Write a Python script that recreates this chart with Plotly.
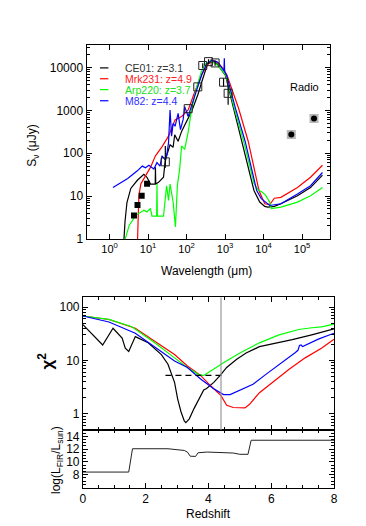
import plotly.graph_objects as go

# ---- SED panel data (wavelength in micron, flux in microJy) ----
ce01_wave = [2.29, 2.51, 2.82, 3.55, 5.25, 7.76, 9.33, 11.5, 15.3, 15.5, 15.8, 18.6, 25.1, 27.5,
             30.2, 37.2, 44.7, 49.0, 60.3, 74.1, 89.1, 110, 145, 195, 263, 355, 479, 631, 794,
             1023, 1660, 2754, 3981, 5623, 7943, 10715, 12882, 19055, 28184, 75858, 165959, 338844]
ce01_flux = [0.63, 2.51, 7.08, 15.1, 23.4, 32.4, 27.5, 19.1, 19.1, 46.8, 19.1, 20.9, 27.5, 60.3,
             87.1, 158, 138, 269, 191, 324, 468, 661, 1122, 2291, 5495, 12589, 14125, 12023, 8913,
             6607, 1122, 191, 50.1, 13.5, 7.24, 5.75, 5.5, 5.75, 6.61, 10.2, 15.8, 30.9]

mrk231_wave = [5.25, 5.75, 6.46, 8.51, 11.5, 15.5, 22.9, 33.9, 50.1, 74.1, 110, 158, 251, 355,
               479, 631, 891, 1122, 2239, 3981, 7586, 10715, 14454, 19055, 28184, 75858, 165959, 338844]
mrk231_flux = [0.63, 10.2, 19.1, 29.5, 46.8, 87.1, 141, 251, 603, 724, 1023, 2512, 7079, 12023,
               14454, 13183, 9550, 6607, 1122, 191, 13.5, 6.61, 6.31, 8.91, 9.33, 15.8, 27.5, 52.5]

arp220_wave = [2.19, 3.24, 4.79, 5.75, 7.76, 9.33, 11.5, 12.6, 16.6, 17.0, 17.4, 25.1, 30.2, 33.9,
               37.2, 44.7, 51.3, 57.5, 66.1, 74.1, 89.1, 110, 132, 178, 240, 316, 417, 562, 759,
               1047, 1738, 3020, 5623, 7079, 8913, 11220, 14454, 15849, 28184, 75858, 165959, 338844]
arp220_flux = [0.63, 2.09, 3.55, 3.89, 4.68, 4.27, 5.13, 3.39, 3.39, 19.1, 3.39, 3.39, 17.4, 7.94,
               19.1, 7.24, 1.91, 17.4, 42.7, 148, 123, 316, 933, 3236, 7943, 12589, 14125, 12589, 9550,
               6607, 1122, 191, 20.0, 14.1, 12.6, 10.5, 7.24, 5.13, 5.5, 7.24, 10.2, 15.8]

m82_wave = [1.22, 2.95, 5.25, 7.08, 8.51, 10.5, 14.1, 17.0, 20.4, 22.9, 27.5, 30.2, 33.9, 37.2,
            40.7, 44.7, 50.1, 60.3, 69.2, 81.3, 89.1, 110, 132, 178, 251, 331, 447, 603, 692,
            933, 955, 977, 1096, 1862, 3311, 6607, 8710, 14454, 28184, 75858, 165959, 338844]
m82_flux = [15.8, 25.7, 38.9, 50.1, 45.7, 52.5, 42.7, 60.3, 50.1, 87.1, 70.8, 87.1, 174, 1023,
            251, 501, 427, 851, 355, 617, 1230, 724, 1230, 2818, 7079, 12023, 14791, 13804, 12589,
            8318, 16596, 7943, 6607, 1122, 191, 13.5, 8.71, 6.03, 6.61, 11.2, 17.4, 35.5]

irac_wave = [4.3, 5.3, 6.8, 9.4]
irac_flux = [3.5, 6.2, 10.2, 19.5]

obs_wave = [28, 110, 195, 263, 372, 550, 912, 1200]
obs_flux = [63, 1100, 3550, 11220, 13800, 12880, 4570, 2510]
obs_err_up = [85, 0, 0, 1500, 1800, 1800, 1050, 1470]
obs_err_dn = [17, 0, 0, 1500, 1800, 1800, 1000, 1160]

radio_wave = [52500, 204000]
radio_flux = [275, 650]

sed_ticks = [1, 10, 100, 1000, 10000]
sed_ticktext = ["1", "10", "100", "1000", "10000"]

# ---- redshift panels ----
z_ce01 = [0, 0.63, 0.96, 1.25, 1.35, 1.46, 1.67, 2.08, 2.5, 2.71, 2.92, 3.02, 3.125, 3.23, 3.28,
          3.39, 3.54, 3.70, 3.85, 3.94, 4.17, 4.375, 4.58, 4.9, 5.2, 5.625, 6.04, 6.67, 7.29, 8.0]
chi_ce01 = [47, 19.5, 40, 26.3, 17, 14.8, 28, 21.4, 12.9, 8.5, 3.9, 1.9, 1.1, 0.74, 0.69,
            0.81, 1.26, 1.9, 2.8, 3.0, 3.9, 5.25, 7.4, 10.5, 13.8, 18.2, 20.4, 24.5, 30.2, 38.9]

z_mrk231 = [0, 0.83, 1.67, 2.29, 2.92, 3.33, 3.75, 4.06, 4.4, 4.58, 4.79, 5.16, 5.3, 5.625,
            6.04, 6.56, 7.08, 7.6, 8.0]
chi_mrk231 = [68, 58.5, 40, 22.9, 12.9, 7.9, 5.25, 3.4, 2.2, 1.45, 1.32, 1.30, 1.5, 2.5,
              3.9, 6.8, 11.2, 17, 25]

z_arp220 = [0, 0.83, 1.56, 2.29, 2.92, 3.33, 3.70, 3.85, 4.06, 4.48, 5.0, 5.625, 6.25, 6.875,
            7.3, 7.6, 8.0]
chi_arp220 = [68, 58.9, 42.7, 21.4, 11.2, 7.4, 5.4, 5.25, 6.3, 9.1, 13.8, 21.4, 30.2, 38,
              41, 42.7, 48]

z_m82 = [0, 0.83, 1.67, 2.29, 2.92, 3.33, 3.75, 4.17, 4.48, 4.69, 5.0, 5.42, 5.83, 6.35,
         6.77, 6.85, 6.9, 6.95, 7.0, 7.5, 8.0]
chi_m82 = [68, 52.5, 32.4, 18.2, 9.8, 7.4, 4.5, 2.95, 2.3, 2.3, 2.75, 3.6, 5.5, 9.1,
           14.1, 15.5, 19.1, 19.5, 18.2, 25.1, 32.4]

thresh_z = [2.63, 4.53]
thresh_chi = [5.25, 5.25]
z_best = 4.4

z_lfir = [0, 1.46, 1.58, 2.71, 3.23, 3.33, 3.42, 3.59, 3.67, 3.96, 4.79, 5.0, 5.26, 5.36, 8.0]
lfir = [8.42, 8.42, 12.07, 12.07, 11.8, 11.55, 10.9, 10.87, 11.44, 11.55, 11.4, 11.2, 11.2, 13.4, 13.4]

templates = ["CE01: z=3.1", "Mrk231: z=4.9", "Arp220: z=3.7", "M82: z=4.4"]
colors = ["black", "#ff0000", "#00ff00", "#0000ff"]
text_colors = ["#333333", "#ff2020", "#20e020", "#3030ff"]

W, H = 366, 526
FONT = "Liberation Sans"


def px(x):
    return x / W


def py(y):
    return 1 - y / H


fig = go.Figure()

sed = [(ce01_wave, ce01_flux), (mrk231_wave, mrk231_flux), (arp220_wave, arp220_flux), (m82_wave, m82_flux)]
for (wv, fl), c in zip(sed, colors):
    fig.add_trace(go.Scatter(x=wv, y=fl, mode="lines", line=dict(color=c, width=1.2),
                             xaxis="x", yaxis="y", showlegend=False))

fig.add_trace(go.Scatter(x=irac_wave, y=irac_flux, mode="markers",
                         marker=dict(symbol="square", size=6, color="black"),
                         xaxis="x", yaxis="y", showlegend=False))
fig.add_trace(go.Scatter(x=obs_wave, y=obs_flux, mode="markers",
                         marker=dict(symbol="square-open", size=8, color="#222", line=dict(width=1)),
                         error_y=dict(type="data", symmetric=False, array=obs_err_up,
                                      arrayminus=obs_err_dn, color="black", thickness=1.2, width=0),
                         xaxis="x", yaxis="y", showlegend=False))
fig.add_trace(go.Scatter(x=radio_wave, y=radio_flux, mode="markers",
                         marker=dict(symbol="square", size=9, color="#b8b8b8"),
                         xaxis="x", yaxis="y", showlegend=False))
fig.add_trace(go.Scatter(x=radio_wave, y=radio_flux, mode="markers",
                         marker=dict(symbol="circle", size=6, color="black"),
                         xaxis="x", yaxis="y", showlegend=False))

# chi2 panel
chis = [(z_ce01, chi_ce01), (z_mrk231, chi_mrk231), (z_arp220, chi_arp220), (z_m82, chi_m82)]
for (zz, cc), c in zip(chis, colors):
    fig.add_trace(go.Scatter(x=zz, y=cc, mode="lines", line=dict(color=c, width=1.2),
                             xaxis="x2", yaxis="y2", showlegend=False))
fig.add_trace(go.Scatter(x=thresh_z, y=thresh_chi, mode="lines",
                         line=dict(color="black", width=1.2, dash="6px,4px"),
                         xaxis="x2", yaxis="y2", showlegend=False))

# LFIR panel
fig.add_trace(go.Scatter(x=z_lfir, y=lfir, mode="lines", line=dict(color="#222", width=1),
                         xaxis="x3", yaxis="y3", showlegend=False))

fig.add_shape(type="line", xref="x2", yref="y2 domain", x0=z_best, x1=z_best, y0=0, y1=1,
              line=dict(color="#999999", width=1.2))

axis_common = dict(showline=True, linecolor="black", linewidth=1, mirror="ticks",
                   ticks="inside", ticklen=5, tickcolor="black", showgrid=False, zeroline=False,
                   tickfont=dict(family=FONT, size=12, color="black"))
log_minor = dict(ticks="inside", ticklen=3, dtick="D1", tickcolor="black", showgrid=False)

fig.update_layout(
    width=W, height=H, margin=dict(l=0, r=0, t=0, b=0),
    paper_bgcolor="white", plot_bgcolor="white",
    font=dict(family=FONT, size=12, color="black"),
    xaxis=dict(axis_common, type="log", range=[-0.6, 5.72], domain=[px(77), px(325)], anchor="y",
               tickmode="array", tickvals=[1, 10, 100, 1000, 10000, 100000],
               ticktext=["10<sup>%d</sup>" % i for i in range(6)],
               tickfont=dict(family=FONT, size=11, color="black")),
    yaxis=dict(axis_common, type="log", range=[0, 4.54], domain=[py(234), py(37)], anchor="x",
               dtick=1, tickformat="d", minor=log_minor),
    xaxis2=dict(axis_common, range=[0, 8], domain=[px(73.3), px(329.3)], anchor="y2",
                dtick=2, showticklabels=False, matches="x3",
                minor=dict(ticks="inside", ticklen=3, dtick=0.5, tickcolor="black", showgrid=False)),
    yaxis2=dict(axis_common, type="log", range=[-0.3, 2.18], domain=[py(427.7), py(293.3)],
                anchor="x2", dtick=1, tickformat="d", minor=log_minor),
    xaxis3=dict(axis_common, range=[0, 8], domain=[px(73.3), px(329.3)], anchor="y3",
                dtick=2, minor=dict(ticks="inside", ticklen=3, dtick=0.5, tickcolor="black", showgrid=False)),
    yaxis3=dict(axis_common, range=[6, 15], domain=[py(486), py(427.7)], anchor="x3",
                tickmode="array", tickvals=[8, 10, 12, 14],
                minor=dict(ticks="inside", ticklen=3, tick0=0, dtick=0.5, tickcolor="black", showgrid=False)),
)

# legend drawn inside the SED panel
leg_y = [60.7, 71.7, 82.7, 94]
for name, c, tc, yy in zip(templates, colors, text_colors, leg_y):
    fig.add_shape(type="line", xref="paper", yref="paper", x0=px(90.7), x1=px(99.3),
                  y0=py(yy), y1=py(yy), line=dict(color=c, width=1.2))
    fig.add_annotation(x=px(114), y=py(yy), xref="paper", yref="paper", text=name,
                       showarrow=False, xanchor="left", yanchor="middle",
                       font=dict(family=FONT, size=10.5, color=tc))

annots = [
    dict(x=px(299), y=py(80), text="Radio", size=11, angle=0),
    dict(x=px(23), y=py(140), text="S<sub>ν</sub> (μJy)", size=12, angle=-90),
    dict(x=px(199), y=py(267), text="Wavelength (μm)", size=12, angle=0),
    dict(x=px(36), y=py(358), text="<b>χ<sup>2</sup></b>", size=17, angle=-90),
    dict(x=px(47), y=py(458), text="log(L<sub>FIR</sub>/L<sub>sun</sub>)", size=12, angle=-90),
    dict(x=px(201), y=py(513), text="Redshift", size=12, angle=0),
]
for a in annots:
    fig.add_annotation(x=a["x"], y=a["y"], xref="paper", yref="paper", text=a["text"],
                       showarrow=False, textangle=a["angle"], xanchor="center", yanchor="middle",
                       font=dict(family=FONT, size=a["size"], color="black"))

fig.write_html("out.html")
